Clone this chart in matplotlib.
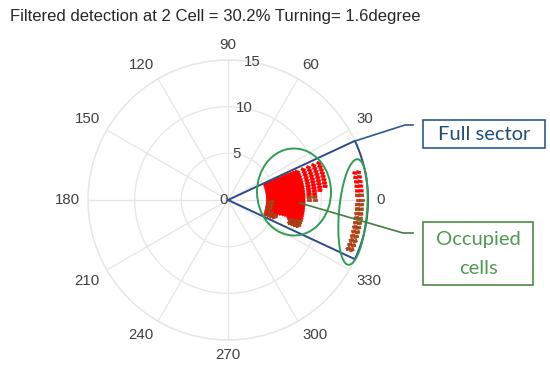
import numpy as np
import matplotlib.pyplot as plt
from matplotlib.markers import MarkerStyle
from matplotlib.transforms import Affine2D
from matplotlib.patches import Ellipse, Rectangle

# Dados: grade de células (feixes x faixas de alcance)
beam_angles = [-22, -20, -18, -16, -14, -12, -10, -8, -6, -4, -2, 0,
               2, 4, 6, 8, 10, 12, 14, 16, 18, 20, 22]

# r = vermelho (detecção), o = oliva (ocupada), . = vazio
ranges = [4.4, 4.7, 5.0, 5.3, 5.6, 5.9, 6.2, 6.5, 6.8, 7.1, 7.4, 7.7, 8.0,
          8.7, 9.3, 9.9, 10.5, 13.9, 14.3]
cells = [
    ".ooooooooooorrrrrrrrrrr",
    ".ooooooooooorrrrrrrrrrr",
    ".oooorrrrrrrrrrrrrrrrrr",
    ".ooorrrrrrrrrrrrrrrrrrr",
    "....rrrrrrrrrrrrrrrrrrr",
    "....rrrrrrrrrrrrrrrrrrr",
    "....rrrrrrrrrrrrrrrrrrr",
    "....rrrrrrrrrrrrrrrrrrr",
    "...rrrrrrrrrrrrrrrrrrrr",
    ".ooorrrrrrrrrrrrrrrrrrr",
    ".ooorrrrrrrrrrrrrrrrrrr",
    ".ooorrrrrrrrrrrrrrrrrrr",
    ".ooorrrrrrrrrrrrrrrrrrr",
    "...........oorrrrrrrrrr",
    "...........oorrrrrrrrrr",
    "..............rrrrrrrrr",
    "...............rrrrrrrr",
    "ooooooooooooorrrrr.....",
    "ooooooooooooorrrrr.....",
]

theta_ticks = [0, 30, 60, 90, 120, 150, 180, 210, 240, 270, 300, 330]
r_ticks = [5, 10, 15]
sector_half = 25
sector_r = 15
title = 'Filtered detection at 2 Cell = 30.2% Turning= 1.6degree'

plt.rcParams['font.family'] = ['Liberation Sans', 'DejaVu Sans']

fig = plt.figure(figsize=(5.5, 3.73), dpi=100)
ax = fig.add_axes([88 / 550, 33 / 373, 280 / 550, 280 / 373], projection='polar')

grid_c = '#e6e6e6'
lab_c = '#404040'
ax.set_rlim(0, 15)
ax.set_rticks(r_ticks)
ax.set_yticklabels([])
ax.set_thetagrids(theta_ticks, [''] * len(theta_ticks))
ax.grid(True, color=grid_c, linewidth=0.9)
ax.spines['polar'].set_color(grid_c)
ax.spines['polar'].set_linewidth(1.0)

# rótulos angulares, estilo MATLAB (borda a distância fixa do círculo)
for a in theta_ticks:
    c, s = np.cos(np.deg2rad(a)), np.sin(np.deg2rad(a))
    ha = 'left' if c > 0.1 else ('right' if c < -0.1 else 'center')
    va = 'bottom' if s > 0.1 else ('top' if s < -0.1 else 'center')
    ax.text(np.deg2rad(a), 15 * 148 / 140, str(a), ha=ha, va=va,
            fontsize=10.8, color=lab_c, clip_on=False)

# rótulos radiais (MATLAB coloca a 80 graus)
for rv in r_ticks:
    ax.text(np.deg2rad(80), rv, str(rv), ha='center', va='center',
            fontsize=10.8, color=lab_c)
ax.text(0, 0, '0', ha='right', va='center', fontsize=10.8, color=lab_c)

# células
verts = [(-1, -0.62), (1, -0.62), (1, 0.62), (-1, 0.62), (-1, -0.62)]
for j, a in enumerate(beam_angles):
    mk = MarkerStyle(verts, transform=Affine2D().rotate_deg(-a))
    th = np.deg2rad(a)
    for code, fc, ec, lw in [('r', '#ff0000', '#ff0000', 0.3),
                             ('o', '#80601a', '#d82010', 0.5)]:
        rr = [ranges[i] for i in range(len(ranges)) if cells[i][j] == code]
        if not rr:
            continue
        sz = [13 if r < 8.5 else 10 for r in rr]
        ax.scatter([th] * len(rr), rr, s=sz, marker=mk, facecolor=fc,
                   edgecolor=ec, linewidths=lw, zorder=3)

# setor completo
arc = np.deg2rad(np.linspace(sector_half, -sector_half, 60))
sth = np.concatenate([[0], arc, [0]])
sr = np.concatenate([[0], np.full(len(arc), sector_r), [0]])
ax.plot(sth, sr, color='#2b4a8b', linewidth=1.4, clip_on=False, zorder=4)

# anotações em coordenadas de pixel
ov = fig.add_axes([0, 0, 1, 1], zorder=5)
ov.set_xlim(0, 550)
ov.set_ylim(373, 0)
ov.axis('off')
ov.patch.set_alpha(0)

ov.add_patch(Ellipse((294, 192), 74, 87, fill=False, edgecolor='#2e9e55', linewidth=1.4))
ov.add_patch(Ellipse((353, 212), 28, 106, angle=5, fill=False, edgecolor='#2e9e55', linewidth=1.4))

ov.plot([355, 405, 413], [141, 125, 125], color='#2b5a8e', linewidth=1.2)
ov.add_patch(Rectangle((423, 120), 122, 28, fill=False, edgecolor='#2b5a8e', linewidth=1.2))
ov.text(484, 134, 'Full sector', ha='center', va='center', fontsize=14.5,
        color='#1f4e79', family='Lato')

ov.plot([300, 403, 413], [203, 233, 233], color='#3f7f3f', linewidth=1.2)
ov.add_patch(Rectangle((423, 222), 110, 63, fill=False, edgecolor='#4f8a45', linewidth=1.2))
ov.text(478, 240, 'Occupied', ha='center', va='center', fontsize=14.5,
        color='#4e9a50', family='Lato')
ov.text(478, 268, 'cells', ha='center', va='center', fontsize=14.5,
        color='#4e9a50', family='Lato')

fig.text(10 / 550, 1 - 17 / 373, title, ha='left', va='center', fontsize=12,
         color='#262626')

fig.savefig('out.png', dpi=100)
